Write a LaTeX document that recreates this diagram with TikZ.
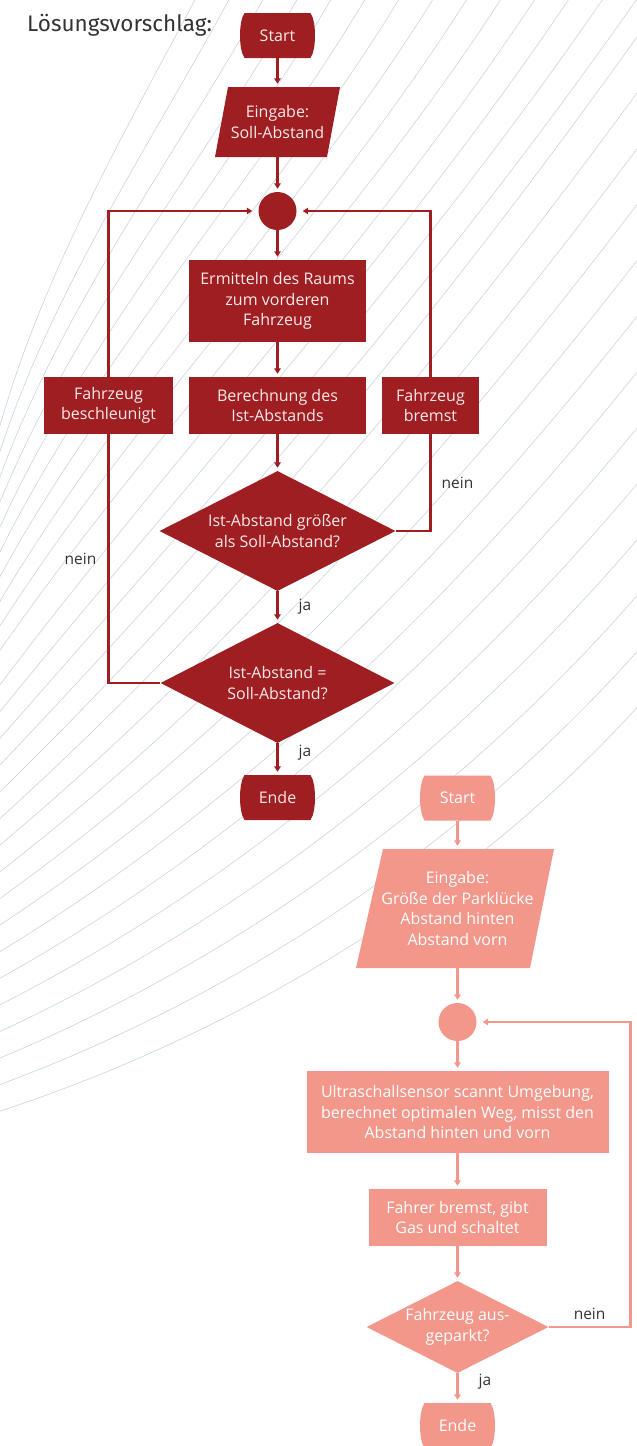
\documentclass[tikz,border=0pt]{standalone}
\usepackage{fontspec}
\setmainfont{Open Sans}
\newfontfamily\titlefont{Fira Sans}
\usetikzlibrary{arrows.meta,shapes.geometric,calc}
\definecolor{dred}{RGB}{158,30,33}
\definecolor{lpink}{RGB}{243,151,139}
\definecolor{bgl}{RGB}{200,212,224}
\definecolor{lbltext}{RGB}{51,51,51}
\definecolor{intext}{RGB}{250,234,234}
\tikzset{
  bgline/.style={draw=bgl, line width=0.6pt},
  txt/.style={font=\fontsize{16}{20.5}\selectfont, align=center, inner sep=0pt},
  ghost/.style={txt, rectangle},
  redbox/.style={txt, rectangle, fill=dred, text=intext},
  pinkbox/.style={txt, rectangle, fill=lpink, text=white},
  reddia/.style={txt, diamond, aspect=2, fill=dred, text=intext},
  pinkdia/.style={txt, diamond, aspect=2, fill=lpink, text=white},
  lbl/.style={font=\fontsize{15.5}{18}\selectfont, text=lbltext, inner sep=0pt},
  rline/.style={draw=dred, line width=2.3pt},
  rarr/.style={rline, -{Triangle[width=6.5pt,length=5.5pt]}, shorten >=3pt},
  pline/.style={draw=lpink, line width=2.3pt},
  parr/.style={pline, -{Triangle[width=6.5pt,length=5.5pt]}, shorten >=3pt},
}
\newcommand{\termshape}[3]{%
  \fill[#3, shift={(#1,#2)}] (-33,-22.5) -- (33,-22.5) .. controls (39,-14) and (39,14) .. (33,22.5)
    -- (-33,22.5) .. controls (-39,14) and (-39,-14) .. cycle;}
\begin{document}
\begin{tikzpicture}[x=1pt,y=-1pt]
\useasboundingbox (0,0) rectangle (637,1446);
% background curves
\begin{scope}
\clip (0,0) rectangle (637,1446);
\foreach \i in {0,...,26}{
  \pgfmathsetmacro{\bsy}{(\i<10) ? (440+24*\i) : (690+26.4*(\i-10))}
  \pgfmathsetmacro{\bex}{(\i<14) ? (197+34*\i) : 642}
  \pgfmathsetmacro{\bey}{(\i<14) ? -4 : (30+56*(\i-14))}
  \pgfmathsetmacro{\angS}{75-57*\i/26}
  \pgfmathsetmacro{\angE}{62-14*\i/26}
  \pgfmathsetmacro{\seglen}{veclen(\bex+4,\bey-\bsy)/3}
  \pgfmathsetmacro{\cax}{\seglen*cos(\angS)}
  \pgfmathsetmacro{\cay}{-\seglen*sin(\angS)}
  \pgfmathsetmacro{\cbx}{-\seglen*cos(\angE)}
  \pgfmathsetmacro{\cby}{\seglen*sin(\angE)}
  \draw[bgline] (-4,\bsy) .. controls +(\cax,\cay) and +(\cbx,\cby) .. (\bex,\bey);
}
\end{scope}
% title
\node[font=\titlefont\fontsize{22.5}{26}\selectfont, text=lbltext, anchor=west, inner sep=0pt] (title) at (27,25) {Lösungsvorschlag:};
% ---- red chart ----
\termshape{277.5}{35.5}{dred}
\node[ghost, text=intext, minimum width=74pt, minimum height=45pt] (s1) at (277.5,35.5) {Start};
\fill[dred] (228,87) -- (340,87) -- (327,157) -- (215,157) -- cycle;
\node[ghost, text=intext, minimum width=100pt, minimum height=70pt] (e1) at (277.5,122) {Eingabe:\\Soll-Abstand};
\node[circle, fill=dred, minimum size=38pt, inner sep=0pt] (c1) at (277.5,211) {};
\node[redbox, minimum width=177pt, minimum height=82pt] (erm) at (277.5,301) {Ermitteln des Raums\\zum vorderen\\Fahrzeug};
\node[redbox, minimum width=177pt, minimum height=57pt] (ber) at (277.5,405.5) {Berechnung des\\Ist-Abstands};
\node[redbox, minimum width=129pt, minimum height=57pt] (besch) at (108.5,405.5) {Fahrzeug\\beschleunigt};
\node[redbox, minimum width=97pt, minimum height=57pt] (brems) at (430.5,405.5) {Fahrzeug\\bremst};
\node[reddia, minimum width=236pt, minimum height=120pt] (d1) at (277.5,531) {Ist-Abstand größer\\als Soll-Abstand?};
\node[reddia, minimum width=234pt, minimum height=120pt] (d2) at (277.5,683) {Ist-Abstand =\\Soll-Abstand?};
\termshape{277.5}{797.5}{dred}
\node[ghost, text=intext, minimum width=74pt, minimum height=45pt] (end1) at (277.5,797.5) {Ende};
\draw[rarr] (s1) -- (e1);
\draw[rarr] (e1) -- (c1);
\draw[rarr] (c1) -- (erm);
\draw[rarr] (erm) -- (ber);
\draw[rarr] (ber) -- (d1);
\draw[rarr] (d1) -- node[lbl, right=20pt] {ja} (d2);
\draw[rarr] (d2) -- node[lbl, right=20pt, pos=0.3] {ja} (end1);
\draw[rline] (d2.west) -| node[lbl, pos=0.75, left=11pt] {nein} (besch.south);
\draw[rarr, shorten >=6pt] (besch.north) |- (c1.west);
\draw[rline] (d1.east) -| node[lbl, pos=0.75, right=10pt] {nein} (brems.south);
\draw[rarr, shorten >=6pt] (brems.north) |- (c1.east);
% ---- pink chart ----
\termshape{457.5}{798}{lpink}
\node[ghost, text=white, minimum width=74pt, minimum height=45pt] (s2) at (457.5,798) {Start};
\fill[lpink] (383,849) -- (554,849) -- (530,968) -- (356,968) -- cycle;
\node[ghost, text=white, minimum width=150pt, minimum height=119pt] (e2) at (457.5,908.5) {Eingabe:\\Größe der Parklücke\\Abstand hinten\\Abstand vorn};
\node[circle, fill=lpink, minimum size=38pt, inner sep=0pt] (c2) at (457.5,1022) {};
\node[pinkbox, minimum width=302pt, minimum height=82pt] (ult) at (457.5,1112) {Ultraschallsensor scannt Umgebung,\\berechnet optimalen Weg, misst den\\Abstand hinten und vorn};
\node[pinkbox, minimum width=178pt, minimum height=57pt] (fahrer) at (457.5,1217.5) {Fahrer bremst, gibt\\Gas und schaltet};
\node[pinkdia, minimum width=182pt, minimum height=92pt] (d3) at (457.5,1327) {Fahrzeug aus-\\geparkt?};
\termshape{457.5}{1425.5}{lpink}
\node[ghost, text=white, minimum width=74pt, minimum height=45pt] (end2) at (457.5,1425.5) {Ende};
\coordinate (p1) at (630.5,1327);
\draw[parr] (s2) -- (e2);
\draw[parr] (e2) -- (c2);
\draw[parr] (c2) -- (ult);
\draw[parr] (ult) -- (fahrer);
\draw[parr] (fahrer) -- (d3);
\draw[parr] (d3) -- node[lbl, right=20pt, pos=0.3] {ja} (end2);
\draw[parr, shorten >=6pt] (d3.east) -- node[lbl, above=6pt] {nein} (p1) |- (c2.east);
\end{tikzpicture}
\end{document}
